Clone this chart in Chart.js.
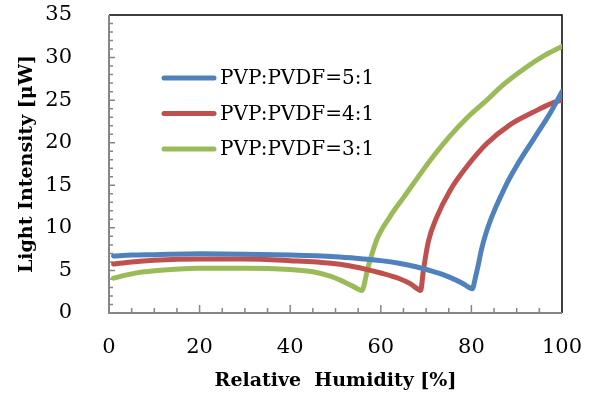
<!DOCTYPE html>
<html>
<head>
<meta charset="utf-8">
<script src="https://cdn.jsdelivr.net/npm/chart.js@4.4.1/dist/chart.umd.min.js"></script>
<style>
  html, body { margin: 0; padding: 0; background: #fff; }
  #wrap { width: 593px; height: 396px; }
</style>
</head>
<body>
<div id="wrap"><canvas id="lightChart" width="593" height="396"></canvas></div>
<script>
// data
const seriesLabels = ['PVP:PVDF=5:1', 'PVP:PVDF=4:1', 'PVP:PVDF=3:1'];
const seriesColors = ['#4F81BD', '#C0504D', '#9BBB59'];

const hum5 = [1, 5, 10, 20, 30, 40, 50, 55, 60, 64, 68, 72, 75, 78, 79.5, 80.2, 80.9, 81.5, 82.2, 83, 84, 85.2, 86.3, 88, 90, 93.7, 97.4, 100];
const int5 = [6.7, 6.8, 6.85, 6.95, 6.9, 6.8, 6.6, 6.4, 6.15, 5.85, 5.4, 4.8, 4.25, 3.5, 3.0, 2.85, 4.2, 5.6, 7.4, 9.0, 10.6, 12.2, 13.5, 15.4, 17.3, 20.4, 23.5, 26.0];

const hum4 = [1, 5, 10, 20, 30, 40, 49, 53, 57, 60, 64, 66.5, 68.2, 68.8, 69.4, 70.5, 72.3, 75.3, 79, 83.4, 88.5, 93.7, 98.1, 100];
const int4 = [5.75, 6.0, 6.2, 6.35, 6.35, 6.15, 5.85, 5.55, 5.1, 4.7, 4.05, 3.45, 2.8, 2.65, 5.0, 8.4, 11.2, 14.4, 17.2, 19.9, 22.1, 23.6, 24.7, 25.0];

const hum3 = [1, 5, 10, 20, 30, 40, 45, 49, 52.5, 54.5, 55.8, 57.2, 59.1, 62, 65, 67.2, 71.6, 75.3, 79, 83.4, 87, 92.2, 96, 100];
const int3 = [4.1, 4.6, 4.95, 5.25, 5.25, 5.1, 4.85, 4.3, 3.5, 2.95, 2.65, 5.4, 8.6, 11.3, 13.55, 15.2, 18.4, 20.8, 22.9, 25.0, 26.8, 28.9, 30.2, 31.3];

const xTicks = [0, 20, 40, 60, 80, 100];
const yTicks = [0, 5, 10, 15, 20, 25, 30, 35];

function toPoints(xs, ys) {
    return xs.map((x, i) => ({ x: x, y: ys[i] }));
}

const serif = "'DejaVu Serif', 'Liberation Serif', serif";

// frame, inward tick marks and the legend inside the plot
const framePlugin = {
    id: 'frame',
    beforeDatasetsDraw(chart) {
        const ctx = chart.ctx;
        const a = chart.chartArea;
        const xs = chart.scales.x;
        const ys = chart.scales.y;
        ctx.save();
        ctx.strokeStyle = '#000';
        ctx.lineWidth = 1.5;
        ctx.beginPath();
        ctx.moveTo(a.left, a.top);
        ctx.lineTo(a.right, a.top);
        ctx.lineTo(a.right, a.bottom);
        ctx.stroke();

        ctx.strokeStyle = '#868686';
        ctx.lineWidth = 2;
        ctx.beginPath();
        ctx.moveTo(a.left, a.top);
        ctx.lineTo(a.left, a.bottom);
        ctx.lineTo(a.right, a.bottom);
        ctx.stroke();

        ctx.lineWidth = 1.5;
        ctx.beginPath();
        for (let v = 1; v < 35; v++) {
            const py = ys.getPixelForValue(v);
            const len = v % 5 === 0 ? 6 : 4;
            ctx.moveTo(a.left, py);
            ctx.lineTo(a.left + len, py);
        }
        for (let v = 5; v < 100; v += 5) {
            const px = xs.getPixelForValue(v);
            const len = v % 20 === 0 ? 8 : 5;
            ctx.moveTo(px, a.bottom);
            ctx.lineTo(px, a.bottom - len);
        }
        ctx.stroke();
        ctx.restore();
    },
    afterDraw(chart) {
        const ctx = chart.ctx;
        ctx.save();
        ctx.font = '20px ' + serif;
        ctx.textBaseline = 'middle';
        ctx.lineCap = 'round';
        chart.data.datasets.forEach((ds, i) => {
            const y = 78 + i * 35.5;
            ctx.strokeStyle = ds.borderColor;
            ctx.lineWidth = 5;
            ctx.beginPath();
            ctx.moveTo(164, y);
            ctx.lineTo(214, y);
            ctx.stroke();
            ctx.fillStyle = '#000';
            ctx.fillText(ds.label, 220, y + 1);
        });
        ctx.restore();
    }
};

const ctx = document.getElementById('lightChart').getContext('2d');
const lineChart = new Chart(ctx, {
    type: 'line',
    data: {
        datasets: [
            { label: seriesLabels[0], data: toPoints(hum5, int5), borderColor: seriesColors[0] },
            { label: seriesLabels[1], data: toPoints(hum4, int4), borderColor: seriesColors[1] },
            { label: seriesLabels[2], data: toPoints(hum3, int3), borderColor: seriesColors[2] }
        ]
    },
    options: {
        responsive: false,
        animation: false,
        layout: { padding: { left: 0, top: 15, right: 31, bottom: 0 } },
        elements: {
            point: { radius: 0 },
            line: {
                borderWidth: 5,
                cubicInterpolationMode: 'monotone',
                borderCapStyle: 'round',
                borderJoinStyle: 'round'
            }
        },
        plugins: {
            legend: { display: false },
            tooltip: { enabled: false }
        },
        scales: {
            x: {
                type: 'linear',
                min: 0,
                max: 100,
                afterBuildTicks: (scale) => { scale.ticks = xTicks.map(v => ({ value: v })); },
                afterFit: (scale) => {
                    scale.height = 83;
                    scale.paddingLeft = 0;
                    scale.paddingRight = 0;
                },
                grid: { display: false, drawTicks: false },
                border: { display: false },
                ticks: { padding: 22, color: '#000', font: { family: serif, size: 21 } },
                title: {
                    display: true,
                    text: 'Relative  Humidity [%]',
                    color: '#000',
                    font: { family: serif, size: 19, weight: 'bold' },
                    padding: { top: 0, bottom: 4 }
                }
            },
            y: {
                min: 0,
                max: 35,
                afterBuildTicks: (scale) => { scale.ticks = yTicks.map(v => ({ value: v })); },
                afterFit: (scale) => {
                    scale.width = 109;
                    scale.paddingTop = 0;
                    scale.paddingBottom = 0;
                },
                grid: { display: false, drawTicks: false },
                border: { display: false },
                ticks: { padding: 37, color: '#000', font: { family: serif, size: 21 } },
                title: {
                    display: true,
                    text: 'Light Intensity [μW]',
                    color: '#000',
                    font: { family: serif, size: 19, weight: 'bold' },
                    padding: { top: 16, bottom: 0 }
                }
            }
        }
    },
    plugins: [framePlugin]
});
</script>
</body>
</html>
